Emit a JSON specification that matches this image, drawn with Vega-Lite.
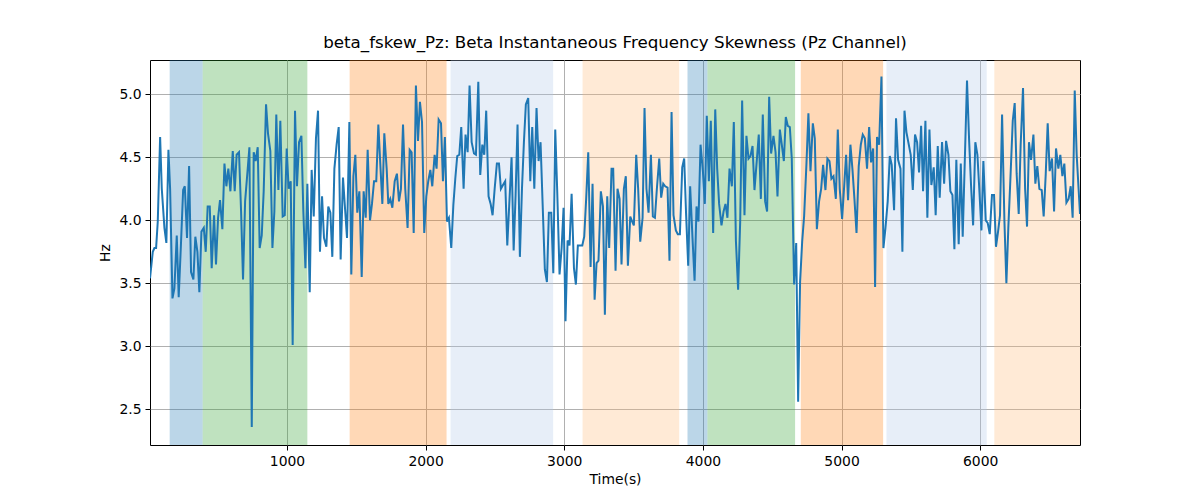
{
  "$schema": "https://vega.github.io/schema/vega-lite/v6.json",
  "width": 930,
  "height": 385,
  "autosize": {"type": "none"},
  "padding": {"left": 150, "top": 60, "right": 120, "bottom": 55},
  "config": {
    "font": "DejaVu Sans",
    "background": "white",
    "view": {"stroke": "black", "strokeWidth": 1},
    "axis": {
      "domain": false,
      "tickColor": "black",
      "tickSize": 5,
      "labelFontSize": 13.9,
      "labelColor": "black",
      "labelPadding": 4,
      "titleFontSize": 13.9,
      "titleFontWeight": "normal",
      "titleColor": "black",
      "gridColor": "#b0b0b0",
      "gridWidth": 1
    }
  },
  "title": {
    "text": "beta_fskew_Pz: Beta Instantaneous Frequency Skewness (Pz Channel)",
    "fontSize": 16.7,
    "fontWeight": "normal",
    "color": "black",
    "anchor": "middle",
    "offset": 8
  },
  "datasets": {
    "bands": [
      {"start": 154, "end": 392, "band": "A"},
      {"start": 392, "end": 1147, "band": "B"},
      {"start": 1452, "end": 2151, "band": "C"},
      {"start": 2180, "end": 2920, "band": "D"},
      {"start": 3132, "end": 3829, "band": "E"},
      {"start": 3889, "end": 4033, "band": "A"},
      {"start": 4033, "end": 4665, "band": "B"},
      {"start": 4706, "end": 5300, "band": "C"},
      {"start": 5324, "end": 6047, "band": "D"},
      {"start": 6102, "end": 6720, "band": "E"}
    ],
    "series": [
      {"t":12,"v":3.54},{"t":32,"v":3.75},{"t":44,"v":3.78},{"t":56,"v":3.78},{"t":68,"v":3.99},{"t":85,"v":4.66},{"t":97,"v":4.25},{"t":116,"v":3.94},{"t":130,"v":3.82},{"t":145,"v":4.56},
      {"t":157,"v":4.25},{"t":174,"v":3.38},{"t":188,"v":3.46},{"t":205,"v":3.88},{"t":219,"v":3.39},{"t":236,"v":3.83},{"t":251,"v":4.24},{"t":263,"v":4.27},{"t":279,"v":3.86},{"t":294,"v":4.43},
      {"t":308,"v":3.59},{"t":325,"v":3.53},{"t":339,"v":3.87},{"t":354,"v":3.75},{"t":368,"v":3.43},{"t":383,"v":3.91},{"t":400,"v":3.94},{"t":414,"v":3.75},{"t":428,"v":4.11},{"t":443,"v":4.11},
      {"t":457,"v":3.62},{"t":474,"v":4.04},{"t":488,"v":3.65},{"t":503,"v":4.02},{"t":517,"v":4.16},{"t":534,"v":3.93},{"t":549,"v":4.45},{"t":563,"v":4.27},{"t":577,"v":4.41},{"t":592,"v":4.23},
      {"t":609,"v":4.55},{"t":623,"v":4.23},{"t":637,"v":4.52},{"t":654,"v":4.54},{"t":669,"v":4.07},{"t":683,"v":3.53},{"t":698,"v":4.15},{"t":714,"v":4.37},{"t":729,"v":4.58},{"t":746,"v":2.36},
      {"t":760,"v":4.54},{"t":774,"v":4.47},{"t":789,"v":4.58},{"t":803,"v":3.78},{"t":818,"v":3.88},{"t":832,"v":4.23},{"t":849,"v":4.92},{"t":863,"v":4.69},{"t":880,"v":4.55},{"t":895,"v":3.78},
      {"t":909,"v":4.07},{"t":923,"v":4.84},{"t":938,"v":4.24},{"t":952,"v":4.79},{"t":969,"v":4.03},{"t":984,"v":4.04},{"t":998,"v":4.57},{"t":1012,"v":4.25},{"t":1027,"v":4.31},{"t":1041,"v":3.01},
      {"t":1058,"v":4.87},{"t":1072,"v":4.27},{"t":1087,"v":4.62},{"t":1104,"v":4.67},{"t":1118,"v":4.07},{"t":1133,"v":3.62},{"t":1147,"v":4.29},{"t":1164,"v":3.43},{"t":1178,"v":4.40},{"t":1193,"v":4.03},
      {"t":1209,"v":4.65},{"t":1224,"v":4.87},{"t":1238,"v":3.75},{"t":1253,"v":4.19},{"t":1267,"v":3.86},{"t":1284,"v":3.79},{"t":1298,"v":4.11},{"t":1313,"v":4.06},{"t":1327,"v":3.71},{"t":1342,"v":4.41},
      {"t":1358,"v":4.60},{"t":1373,"v":4.74},{"t":1387,"v":3.69},{"t":1404,"v":4.34},{"t":1419,"v":4.09},{"t":1433,"v":3.86},{"t":1450,"v":4.78},{"t":1464,"v":3.57},{"t":1479,"v":4.35},{"t":1493,"v":4.52},
      {"t":1507,"v":4.06},{"t":1522,"v":4.23},{"t":1539,"v":3.55},{"t":1553,"v":4.23},{"t":1568,"v":4.02},{"t":1582,"v":4.56},{"t":1599,"v":4.00},{"t":1613,"v":4.13},{"t":1628,"v":4.31},{"t":1644,"v":4.31},
      {"t":1659,"v":4.76},{"t":1673,"v":4.45},{"t":1688,"v":4.13},{"t":1702,"v":4.69},{"t":1719,"v":4.41},{"t":1731,"v":4.13},{"t":1745,"v":4.17},{"t":1760,"v":4.10},{"t":1777,"v":4.31},{"t":1793,"v":4.37},
      {"t":1808,"v":4.15},{"t":1822,"v":4.25},{"t":1837,"v":4.76},{"t":1853,"v":4.25},{"t":1870,"v":3.94},{"t":1885,"v":4.56},{"t":1899,"v":4.54},{"t":1914,"v":3.90},{"t":1930,"v":5.07},{"t":1945,"v":4.63},
      {"t":1959,"v":4.94},{"t":1974,"v":4.78},{"t":1990,"v":3.90},{"t":2005,"v":4.19},{"t":2019,"v":4.31},{"t":2034,"v":4.40},{"t":2048,"v":4.27},{"t":2065,"v":4.52},{"t":2079,"v":4.41},{"t":2094,"v":4.80},
      {"t":2111,"v":4.77},{"t":2125,"v":4.31},{"t":2139,"v":4.66},{"t":2154,"v":3.99},{"t":2168,"v":4.02},{"t":2185,"v":3.78},{"t":2200,"v":4.12},{"t":2214,"v":4.33},{"t":2228,"v":4.51},{"t":2243,"v":4.52},
      {"t":2257,"v":4.74},{"t":2274,"v":4.25},{"t":2288,"v":4.68},{"t":2303,"v":4.54},{"t":2317,"v":5.07},{"t":2332,"v":4.62},{"t":2349,"v":4.53},{"t":2363,"v":4.52},{"t":2380,"v":5.10},{"t":2394,"v":4.36},
      {"t":2409,"v":4.60},{"t":2423,"v":4.52},{"t":2437,"v":4.87},{"t":2454,"v":4.19},{"t":2469,"v":4.13},{"t":2483,"v":4.04},{"t":2498,"v":4.25},{"t":2514,"v":4.45},{"t":2529,"v":4.45},{"t":2543,"v":4.25},
      {"t":2558,"v":4.28},{"t":2574,"v":4.31},{"t":2589,"v":3.80},{"t":2603,"v":4.12},{"t":2620,"v":4.50},{"t":2635,"v":3.76},{"t":2649,"v":4.20},{"t":2663,"v":4.76},{"t":2680,"v":3.71},{"t":2695,"v":4.25},
      {"t":2709,"v":4.62},{"t":2723,"v":4.92},{"t":2740,"v":4.97},{"t":2755,"v":4.31},{"t":2769,"v":4.74},{"t":2784,"v":4.25},{"t":2800,"v":4.89},{"t":2815,"v":4.47},{"t":2829,"v":4.62},{"t":2844,"v":4.13},
      {"t":2860,"v":3.61},{"t":2875,"v":3.51},{"t":2889,"v":4.06},{"t":2906,"v":4.06},{"t":2921,"v":3.58},{"t":2935,"v":4.72},{"t":2949,"v":4.24},{"t":2966,"v":3.57},{"t":2981,"v":3.78},{"t":2995,"v":4.10},
      {"t":3009,"v":3.20},{"t":3024,"v":3.84},{"t":3038,"v":3.80},{"t":3053,"v":4.21},{"t":3070,"v":3.62},{"t":3084,"v":3.49},{"t":3098,"v":3.80},{"t":3115,"v":3.80},{"t":3130,"v":3.80},{"t":3144,"v":3.87},
      {"t":3158,"v":4.17},{"t":3173,"v":4.54},{"t":3190,"v":3.63},{"t":3204,"v":4.29},{"t":3219,"v":3.37},{"t":3233,"v":3.66},{"t":3247,"v":3.68},{"t":3264,"v":4.23},{"t":3279,"v":4.11},{"t":3293,"v":3.25},
      {"t":3310,"v":4.19},{"t":3324,"v":3.78},{"t":3341,"v":4.41},{"t":3353,"v":4.41},{"t":3370,"v":3.60},{"t":3384,"v":4.25},{"t":3399,"v":4.17},{"t":3413,"v":3.65},{"t":3430,"v":4.25},{"t":3444,"v":4.35},
      {"t":3459,"v":3.64},{"t":3476,"v":4.03},{"t":3490,"v":3.99},{"t":3502,"v":3.96},{"t":3519,"v":4.52},{"t":3533,"v":4.25},{"t":3548,"v":3.83},{"t":3565,"v":4.02},{"t":3579,"v":4.89},{"t":3593,"v":4.25},
      {"t":3608,"v":4.06},{"t":3625,"v":4.52},{"t":3639,"v":4.03},{"t":3654,"v":4.02},{"t":3668,"v":4.25},{"t":3685,"v":4.49},{"t":3699,"v":4.18},{"t":3714,"v":4.29},{"t":3728,"v":4.27},{"t":3745,"v":4.26},
      {"t":3759,"v":3.68},{"t":3774,"v":4.86},{"t":3788,"v":4.04},{"t":3805,"v":3.92},{"t":3819,"v":3.89},{"t":3834,"v":3.89},{"t":3851,"v":4.42},{"t":3865,"v":4.49},{"t":3879,"v":4.04},{"t":3894,"v":3.64},
      {"t":3908,"v":4.27},{"t":3925,"v":3.86},{"t":3940,"v":3.52},{"t":3954,"v":4.11},{"t":3968,"v":3.99},{"t":3983,"v":4.60},{"t":4000,"v":4.39},{"t":4014,"v":4.13},{"t":4028,"v":4.83},{"t":4043,"v":4.31},
      {"t":4057,"v":4.79},{"t":4074,"v":3.90},{"t":4089,"v":4.88},{"t":4103,"v":4.41},{"t":4117,"v":4.13},{"t":4134,"v":3.96},{"t":4149,"v":4.07},{"t":4163,"v":4.13},{"t":4177,"v":4.02},{"t":4192,"v":4.41},
      {"t":4209,"v":4.27},{"t":4223,"v":4.78},{"t":4238,"v":3.84},{"t":4254,"v":3.45},{"t":4269,"v":3.99},{"t":4283,"v":4.95},{"t":4300,"v":4.04},{"t":4314,"v":4.67},{"t":4329,"v":4.49},{"t":4343,"v":4.51},
      {"t":4358,"v":4.59},{"t":4372,"v":4.24},{"t":4389,"v":4.48},{"t":4403,"v":4.68},{"t":4418,"v":4.17},{"t":4432,"v":4.84},{"t":4449,"v":4.15},{"t":4463,"v":4.07},{"t":4478,"v":4.98},{"t":4492,"v":4.53},
      {"t":4509,"v":4.67},{"t":4524,"v":4.54},{"t":4538,"v":4.19},{"t":4555,"v":4.72},{"t":4569,"v":4.60},{"t":4584,"v":4.47},{"t":4598,"v":4.82},{"t":4612,"v":4.75},{"t":4627,"v":4.74},{"t":4641,"v":4.49},
      {"t":4658,"v":3.49},{"t":4673,"v":3.82},{"t":4687,"v":2.56},{"t":4701,"v":3.51},{"t":4716,"v":3.83},{"t":4730,"v":4.03},{"t":4747,"v":4.45},{"t":4761,"v":4.85},{"t":4776,"v":4.39},{"t":4793,"v":4.77},
      {"t":4807,"v":4.65},{"t":4822,"v":3.93},{"t":4838,"v":4.15},{"t":4853,"v":4.25},{"t":4867,"v":4.44},{"t":4884,"v":4.24},{"t":4898,"v":4.49},{"t":4913,"v":4.47},{"t":4927,"v":4.33},{"t":4942,"v":4.35},
      {"t":4959,"v":4.17},{"t":4973,"v":4.72},{"t":4987,"v":4.25},{"t":5004,"v":4.01},{"t":5019,"v":4.27},{"t":5033,"v":4.52},{"t":5047,"v":4.16},{"t":5064,"v":4.60},{"t":5079,"v":4.40},{"t":5093,"v":4.17},
      {"t":5108,"v":3.90},{"t":5124,"v":4.43},{"t":5139,"v":4.60},{"t":5153,"v":4.68},{"t":5168,"v":4.65},{"t":5184,"v":4.41},{"t":5199,"v":4.74},{"t":5213,"v":4.46},{"t":5228,"v":4.57},{"t":5242,"v":3.47},
      {"t":5256,"v":4.66},{"t":5271,"v":4.60},{"t":5288,"v":5.14},{"t":5302,"v":3.78},{"t":5317,"v":3.94},{"t":5333,"v":4.15},{"t":5348,"v":4.51},{"t":5362,"v":4.44},{"t":5379,"v":4.08},{"t":5393,"v":4.81},
      {"t":5408,"v":4.48},{"t":5425,"v":4.41},{"t":5439,"v":3.75},{"t":5454,"v":4.87},{"t":5468,"v":4.70},{"t":5485,"v":4.60},{"t":5499,"v":4.52},{"t":5514,"v":4.24},{"t":5530,"v":4.68},{"t":5545,"v":4.62},
      {"t":5559,"v":4.38},{"t":5574,"v":4.75},{"t":5588,"v":4.23},{"t":5605,"v":4.79},{"t":5619,"v":4.02},{"t":5634,"v":4.72},{"t":5648,"v":4.28},{"t":5665,"v":4.42},{"t":5679,"v":4.04},{"t":5694,"v":4.59},
      {"t":5708,"v":4.18},{"t":5725,"v":4.62},{"t":5740,"v":4.29},{"t":5754,"v":4.63},{"t":5771,"v":4.52},{"t":5785,"v":4.23},{"t":5800,"v":4.20},{"t":5814,"v":3.77},{"t":5828,"v":4.48},{"t":5845,"v":3.81},
      {"t":5860,"v":4.45},{"t":5874,"v":3.87},{"t":5889,"v":4.47},{"t":5905,"v":5.11},{"t":5920,"v":4.64},{"t":5934,"v":4.28},{"t":5949,"v":3.96},{"t":5965,"v":4.62},{"t":5980,"v":4.52},{"t":5994,"v":4.24},
      {"t":6009,"v":3.92},{"t":6023,"v":4.47},{"t":6040,"v":4.00},{"t":6054,"v":3.98},{"t":6069,"v":3.89},{"t":6085,"v":4.20},{"t":6100,"v":4.20},{"t":6114,"v":3.79},{"t":6129,"v":3.91},{"t":6143,"v":4.04},
      {"t":6158,"v":4.84},{"t":6175,"v":3.99},{"t":6189,"v":3.50},{"t":6203,"v":3.94},{"t":6218,"v":4.33},{"t":6235,"v":4.79},{"t":6249,"v":4.93},{"t":6263,"v":4.37},{"t":6278,"v":4.05},{"t":6292,"v":4.60},
      {"t":6309,"v":5.05},{"t":6324,"v":4.25},{"t":6338,"v":3.95},{"t":6352,"v":4.62},{"t":6367,"v":4.48},{"t":6384,"v":4.68},{"t":6398,"v":4.29},{"t":6412,"v":4.43},{"t":6427,"v":4.25},{"t":6444,"v":4.24},
      {"t":6458,"v":4.03},{"t":6473,"v":4.37},{"t":6487,"v":4.77},{"t":6501,"v":4.39},{"t":6518,"v":4.49},{"t":6533,"v":4.07},{"t":6547,"v":4.57},{"t":6564,"v":4.41},{"t":6578,"v":4.52},{"t":6593,"v":4.35},
      {"t":6607,"v":4.45},{"t":6622,"v":4.14},{"t":6638,"v":4.17},{"t":6653,"v":4.27},{"t":6667,"v":4.02},{"t":6682,"v":5.03},{"t":6696,"v":4.52},{"t":6720,"v":4.05}
    ]
  },
  "layer": [
    {
      "data": {"name": "bands"},
      "mark": {"type": "rect", "opacity": 0.3, "clip": true},
      "encoding": {
        "x": {
          "field": "start",
          "type": "quantitative",
          "scale": {"domain": [12, 6720], "nice": false, "zero": false},
          "axis": {"values": [1000, 2000, 3000, 4000, 5000, 6000], "format": "d", "title": "Time(s)", "titlePadding": 5}
        },
        "x2": {"field": "end"},
        "color": {
          "field": "band",
          "type": "nominal",
          "scale": {"domain": ["A", "B", "C", "D", "E"], "range": ["#1f77b4", "#2ca02c", "#ff7f0e", "#aec7e8", "#ffbb78"]},
          "legend": null
        }
      }
    },
    {
      "data": {"name": "series"},
      "mark": {"type": "line", "color": "#1f77b4", "strokeWidth": 2, "clip": true},
      "encoding": {
        "x": {"field": "t", "type": "quantitative"},
        "y": {
          "field": "v",
          "type": "quantitative",
          "scale": {"domain": [2.217, 5.272], "nice": false, "zero": false},
          "axis": {"values": [2.5, 3.0, 3.5, 4.0, 4.5, 5.0], "format": ".1f", "title": "Hz", "titlePadding": 6}
        }
      }
    }
  ]
}
